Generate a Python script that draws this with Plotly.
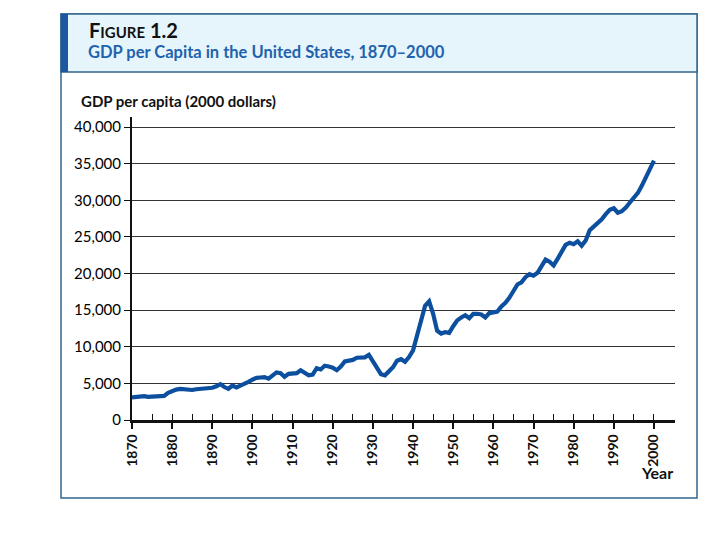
import plotly.graph_objects as go

years = list(range(1870, 2001))
gdp_per_capita = [
    3100, 3150, 3200, 3250, 3150, 3200, 3150, 3200, 3300, 3700,   # 1870-1879
    4000, 4150, 4250, 4200, 4150, 4100, 4200, 4250, 4200, 4350,   # 1880-1889
    4400, 4600, 4900, 4500, 4250, 4700, 4450, 4700, 4900, 5200,   # 1890-1899
    5500, 5750, 5800, 5850, 5650, 6100, 6500, 6400, 5900, 6300,   # 1900-1909
    6350, 6400, 6800, 6500, 6100, 6200, 7080, 6900, 7400, 7300,   # 1910-1919
    7150, 6800, 7300, 8000, 8100, 8200, 8500, 8500, 8550, 8900,   # 1920-1929
    8000, 7200, 6250, 6100, 6600, 7200, 8100, 8300, 7950, 8600,   # 1930-1939
    9500, 11500, 13600, 15600, 16200, 14500, 12200, 11800, 12000, 11900,  # 1940-1949
    12800, 13600, 14000, 14300, 13900, 14500, 14500, 14400, 14000, 14600,  # 1950-1959
    14700, 14800, 15500, 16000, 16700, 17700, 18500, 18800, 19500, 19900,  # 1960-1969
    19700, 20100, 21000, 21900, 21600, 21100, 22000, 22900, 23900, 24200,  # 1970-1979
    24000, 24400, 23800, 24500, 25900, 26400, 26900, 27400, 28100, 28700,  # 1980-1989
    28900, 28300, 28500, 29000, 29700, 30300, 31000, 32000, 33200, 34300,  # 1990-1999
    35400,                                                                 # 2000
]

y_ticks = [0, 5000, 10000, 15000, 20000, 25000, 30000, 35000, 40000]
y_tick_labels = ["0", "5,000", "10,000", "15,000", "20,000", "25,000", "30,000", "35,000", "40,000"]
x_ticks = list(range(1870, 2001, 10))
x_tick_labels = [str(v) for v in x_ticks]

FONT = "Lato, sans-serif"
LINE_COLOR = "#0b4f9e"

OFF = 8  # page body margin offset
W, H = 720 - OFF, 540 - OFF
L, R, T, B = 132 - OFF, 675 - OFF, 117 - OFF, 420 - OFF
GRID_TOP = 127 - OFF  # pixel row of the 40,000 gridline

def px(x):
    return (x - OFF - L) / (R - L)
def py(y):
    return (B - (y - OFF)) / (B - T)

xrange = [1870, 1870 + (R - L) / 4.015]
ymax = 40000 * (B - T) / (B - GRID_TOP)

fig = go.Figure()
fig.add_trace(go.Scatter(
    x=years, y=gdp_per_capita, mode="lines",
    line=dict(color=LINE_COLOR, width=4.2),
    hoverinfo="skip", showlegend=False, xaxis="x", yaxis="y",
))
fig.add_trace(go.Scatter(
    x=[years[0], years[-1]], y=[None, None], mode="lines",
    showlegend=False, hoverinfo="skip", xaxis="x2", yaxis="y",
))

fig.update_layout(
    width=W, height=H,
    margin=dict(l=L, r=W - R, t=T, b=H - B, pad=0, autoexpand=False),
    paper_bgcolor="white", plot_bgcolor="white",
    font=dict(family=FONT, color="#111111"),
    xaxis=dict(
        range=xrange, tickmode="array", tickvals=x_ticks,
        ticktext=["<b>%s</b>" % t for t in x_tick_labels],
        tickangle=-90, ticks="outside", ticklen=6, tickwidth=1.5, tickcolor="#111",
        showline=True, linecolor="#111", linewidth=2.5, showgrid=False, zeroline=False,
        tickfont=dict(family=FONT, size=14, color="#111"),
        fixedrange=True, automargin=False,
    ),
    xaxis2=dict(
        range=xrange, overlaying="x", matches="x", tickmode="linear", tick0=1870, dtick=5,
        ticks="inside", ticklen=6, tickwidth=1.2, tickcolor="#111", showticklabels=False,
        showline=False, showgrid=False, zeroline=False, side="bottom",
    ),
    yaxis=dict(
        range=[0, ymax], tickmode="array", tickvals=y_ticks, ticktext=y_tick_labels,
        ticks="outside", ticklen=6, tickwidth=1.2, tickcolor="#111",
        showline=True, linecolor="#111", linewidth=2, showgrid=True,
        gridcolor="#333333", gridwidth=1.2, zeroline=False,
        tickfont=dict(family=FONT, size=15, color="#000"),
        fixedrange=True, automargin=False,
    ),
    shapes=[
        dict(type="rect", xref="paper", yref="paper", x0=px(61), x1=px(697), y0=py(498), y1=py(14),
             line=dict(color="#33658f", width=1.5), fillcolor="rgba(0,0,0,0)", layer="below"),
        dict(type="rect", xref="paper", yref="paper", x0=px(61), x1=px(697), y0=py(72), y1=py(14),
             line=dict(color="#33658f", width=1.5), fillcolor="#e6f5fb", layer="below"),
        dict(type="rect", xref="paper", yref="paper", x0=px(61), x1=px(68), y0=py(72), y1=py(14),
             line=dict(width=0), fillcolor="#1c57a3", layer="below"),
    ],
    annotations=[
        dict(text="<b>F<span style='font-size:15px'>IGURE</span> 1.2</b>", xref="paper", yref="paper",
             x=px(87), y=py(30), xanchor="left", yanchor="middle", showarrow=False,
             font=dict(family=FONT, size=20, color="#111")),
        dict(text="<b>GDP per Capita in the United States, 1870–2000</b>", xref="paper", yref="paper",
             x=px(86), y=py(52), xanchor="left", yanchor="middle", showarrow=False,
             font=dict(family=FONT, size=16.5, color="#1f62ad")),
        dict(text="<b>GDP per capita (2000 dollars)</b>", xref="paper", yref="paper",
             x=px(79), y=py(101), xanchor="left", yanchor="middle", showarrow=False,
             font=dict(family=FONT, size=15, color="#111")),
        dict(text="<b>Year</b>", xref="paper", yref="paper",
             x=px(675), y=py(472), xanchor="right", yanchor="middle", showarrow=False,
             font=dict(family=FONT, size=16, color="#111")),
    ],
)

fig.write_html("out.html")
